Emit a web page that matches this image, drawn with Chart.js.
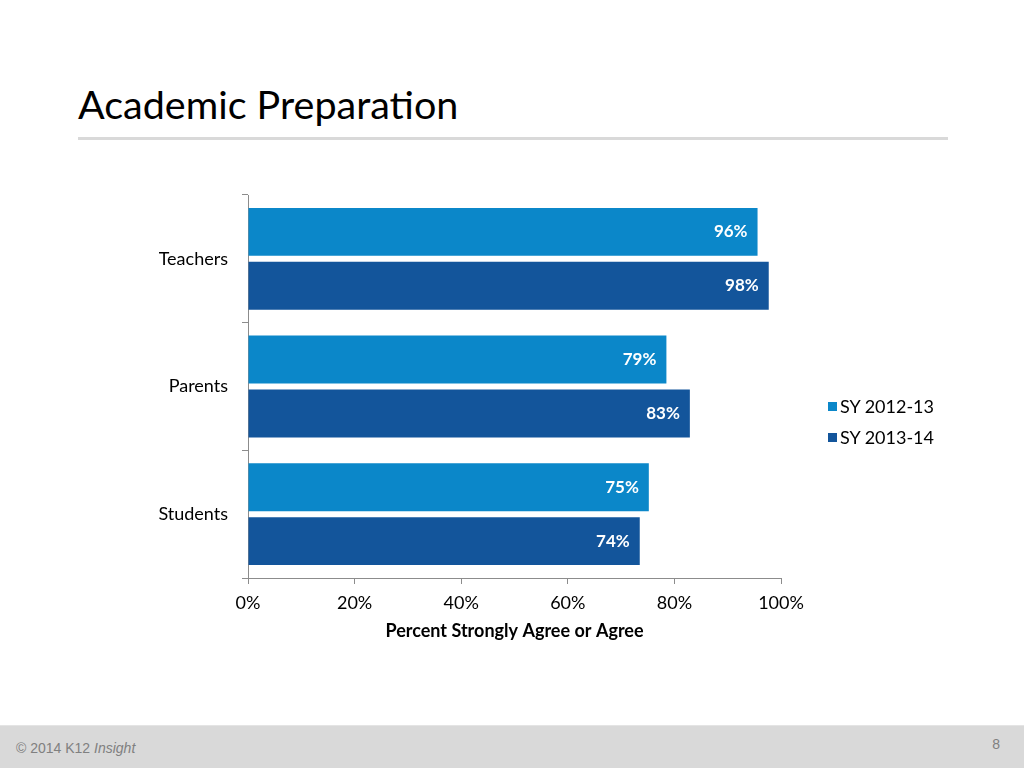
<!DOCTYPE html>
<html>
<head>
<meta charset="utf-8">
<script src="https://cdn.jsdelivr.net/npm/chart.js@4"></script>
<style>
  html, body { margin: 0; padding: 0; background: #fff; }
  body { width: 1024px; height: 768px; position: relative; overflow: hidden; font-family: Lato, "Open Sans", sans-serif; }
  #title { position: absolute; left: 78px; top: 76px; font-size: 39.5px; color: #000; line-height: 56px; }
  #rule { position: absolute; left: 78px; top: 137px; width: 870px; height: 3px; background: #d9d9d9; }
  #chartBox { position: absolute; left: 130px; top: 180px; width: 700px; height: 482px; }
  #legend { position: absolute; left: 828px; top: 395px; font-size: 18px; color: #000; }
  #legend .item { display: flex; align-items: center; height: 22px; margin-bottom: 9px; white-space: nowrap; }
  #legend .swatch { width: 9px; height: 9px; margin-right: 3px; }
  #footer { position: absolute; left: 0; top: 725px; width: 1024px; height: 43px; background: #d9d9d9; border-top: 1px solid #e4e4e4;
            font-family: "Liberation Sans", Arial, sans-serif; color: #808080; font-size: 14px; }
  #footer .copy { position: absolute; left: 16px; top: 14px; }
  #footer .page { position: absolute; right: 24px; top: 10px; font-size: 14px; }
</style>
</head>
<body>
<div id="title">Academic Preparation</div>
<div id="rule"></div>
<div id="chartBox"><canvas id="prepChart"></canvas></div>
<div id="legend"></div>
<div id="footer"><span class="copy">© 2014 K12 <i>Insight</i></span><span class="page">8</span></div>

<script>
// ===== Data =====
const groups      = ["Teachers", "Parents", "Students"];
const sy1213      = [95.6, 78.5, 75.2];
const sy1314      = [97.7, 82.9, 73.5];
const seriesNames = ["SY 2012-13", "SY 2013-14"];
const xTicks      = [0, 20, 40, 60, 80, 100];

const lightBlue = "#0b87c9";
const darkBlue  = "#13559b";
const axisGrey  = "#8c8c8c";
const labelFont = "Lato, 'Open Sans', sans-serif";

// white % labels at the inner end of each bar
const barLabels = {
  id: "barLabels",
  afterDatasetsDraw(chart) {
    const ctx = chart.ctx;
    ctx.save();
    ctx.font = "bold 17px " + labelFont;
    ctx.fillStyle = "#fff";
    ctx.textAlign = "right";
    ctx.textBaseline = "middle";
    chart.data.datasets.forEach((ds, i) => {
      chart.getDatasetMeta(i).data.forEach((bar, j) => {
        ctx.fillText(Math.round(ds.data[j]) + "%", bar.x - 10, bar.y);
      });
    });
    ctx.restore();
  }
};

const ctx = document.getElementById("prepChart").getContext("2d");
const chart = new Chart(ctx, {
  type: "bar",
  data: {
    labels: groups,
    datasets: [
      { label: seriesNames[0], data: sy1213, backgroundColor: lightBlue },
      { label: seriesNames[1], data: sy1314, backgroundColor: darkBlue }
    ]
  },
  options: {
    indexAxis: "y",
    responsive: true,
    maintainAspectRatio: false,
    animation: false,
    categoryPercentage: 0.844,
    barPercentage: 0.89,
    layout: { padding: { top: 15, right: 49, left: 0, bottom: 0 } },
    scales: {
      x: {
        min: 0,
        max: 100,
        afterBuildTicks: (scale) => { scale.ticks = xTicks.map(v => ({ value: v })); },
        afterFit: (scale) => { scale.height = 84; },
        ticks: { color: "#000", font: { family: labelFont, size: 18 }, padding: 8, callback: v => v + "%" },
        grid: { drawOnChartArea: false, color: axisGrey, tickLength: 6 },
        border: { color: axisGrey },
        title: { display: true, text: "Percent Strongly Agree or Agree", color: "#000",
                 font: { family: labelFont, size: 18, weight: "bold" }, padding: { top: 4, bottom: 20 } }
      },
      y: {
        afterFit: (scale) => { scale.width = 118; scale.paddingTop = 0; scale.paddingBottom = 0; },
        ticks: { color: "#000", font: { family: labelFont, size: 18 }, padding: 14 },
        grid: { drawOnChartArea: false, color: axisGrey, tickLength: 6 },
        border: { color: axisGrey }
      }
    },
    plugins: {
      legend: { display: false },
      tooltip: { enabled: false }
    }
  },
  plugins: [barLabels]
});

// legend as page text, built from the datasets
const legendEl = document.getElementById("legend");
chart.data.datasets.forEach(ds => {
  const row = document.createElement("div");
  row.className = "item";
  row.innerHTML = `<span class="swatch" style="background:${ds.backgroundColor}"></span><span>${ds.label}</span>`;
  legendEl.appendChild(row);
});
</script>
</body>
</html>
